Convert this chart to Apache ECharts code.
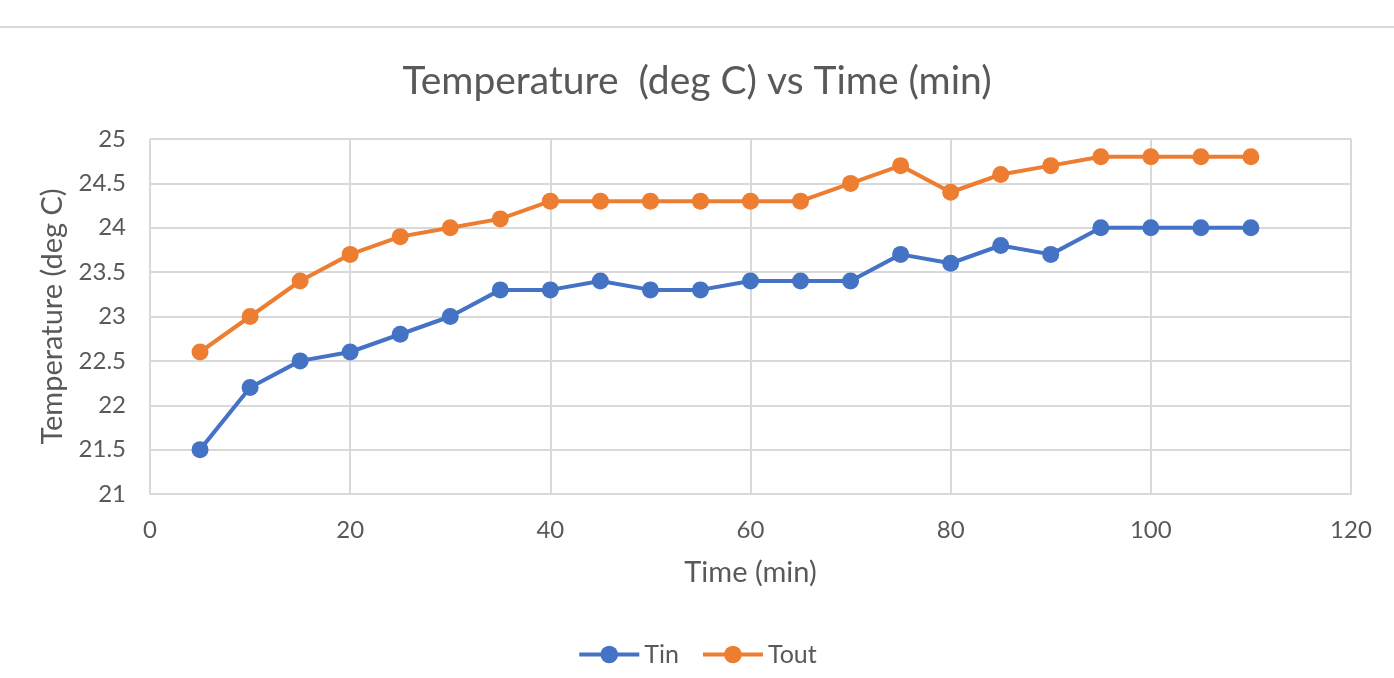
<!DOCTYPE html>
<html><head><meta charset="utf-8">
<script src="https://cdn.jsdelivr.net/npm/echarts@6/dist/echarts.min.js"></script>
<style>html,body{margin:0;padding:0;background:#fff}#c{width:1394px;height:678px}</style>
</head><body><div id="c"></div>
<script>
const times = [5,10,15,20,25,30,35,40,45,50,55,60,65,70,75,80,85,90,95,100,105,110];
const tin  = [21.5,22.2,22.5,22.6,22.8,23.0,23.3,23.3,23.4,23.3,23.3,23.4,23.4,23.4,23.7,23.6,23.8,23.7,24.0,24.0,24.0,24.0];
const tout = [22.6,23.0,23.4,23.7,23.9,24.0,24.1,24.3,24.3,24.3,24.3,24.3,24.3,24.5,24.7,24.4,24.6,24.7,24.8,24.8,24.8,24.8];
const seriesNames = ['Tin','Tout'];
const font = 'Lato, "Open Sans", sans-serif';
const txt = '#595959';
const chart = echarts.init(document.getElementById('c'));
const mk = (name, vals, color) => ({
  name, type:'line', data: times.map((t,i)=>[t, vals[i]]),
  symbol:'circle', symbolSize:17, lineStyle:{width:4,color}, itemStyle:{color},
  emphasis:{disabled:true}
});
chart.setOption({
  animation:false,
  textStyle:{fontFamily:font},
  graphic:[{type:'rect', shape:{x:0,y:26,width:1394,height:2}, style:{fill:'#d9d9d9'}}],
  title:{text:'Temperature  (deg C) vs Time (min)', left:'center', top:57,
    textStyle:{fontFamily:font, fontSize:39, fontWeight:'normal', color:txt}},
  legend:{bottom:6, left:'center', itemWidth:60, itemHeight:22, itemGap:22,
    lineStyle:{width:4},
    textStyle:{fontFamily:font, fontSize:25, color:txt}, data:seriesNames},
  grid:{left:150, right:43, top:139, bottom:184, containLabel:false},
  xAxis:{type:'value', min:0, max:120, interval:20,
    name:'Time (min)', nameLocation:'middle', nameGap:64,
    nameTextStyle:{fontFamily:font, fontSize:29, color:txt},
    axisLine:{show:true, lineStyle:{color:'#d9d9d9', width:2}},
    axisTick:{show:false},
    axisLabel:{fontFamily:font, fontSize:24, color:txt, margin:24},
    splitLine:{show:true, lineStyle:{color:'#d9d9d9', width:2}}},
  yAxis:{type:'value', min:21, max:25, interval:0.5,
    name:'Temperature (deg C)', nameLocation:'middle', nameGap:83, nameRotate:90,
    nameTextStyle:{fontFamily:font, fontSize:29, color:txt},
    axisLine:{show:false}, axisTick:{show:false},
    axisLabel:{fontFamily:font, fontSize:24, color:txt, margin:24},
    splitLine:{show:true, lineStyle:{color:'#d9d9d9', width:2}}},
  series:[mk('Tin', tin, '#4472C4'), mk('Tout', tout, '#ED7D31')]
});
</script></body></html>
